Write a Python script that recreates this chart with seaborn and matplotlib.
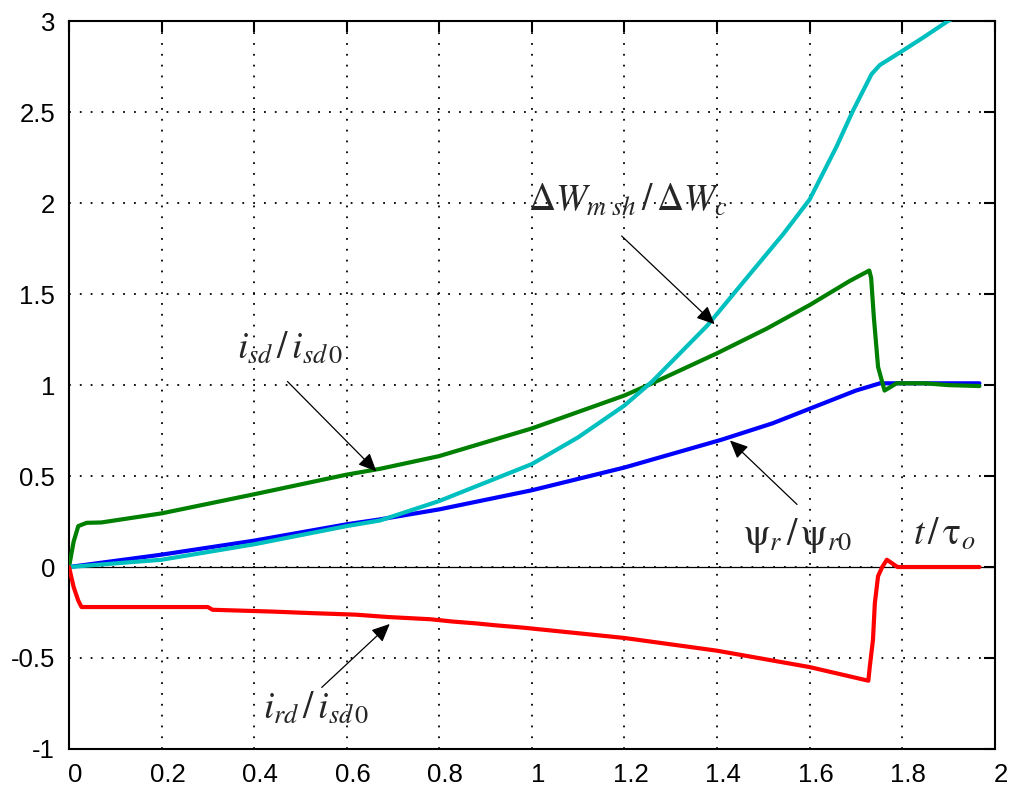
import matplotlib
matplotlib.use("Agg")
import matplotlib.pyplot as plt
import matplotlib.transforms as mtransforms
from matplotlib.ticker import FormatStrFormatter
import seaborn as sns

# values
t_isd = [0, 0.01, 0.02, 0.038, 0.07, 0.2, 0.4, 0.6, 0.672, 0.8, 1.0, 1.2, 1.26, 1.4, 1.507,
         1.6, 1.687, 1.729, 1.733, 1.739, 1.748, 1.762, 1.788, 1.85, 1.9, 1.967]
isd = [0, 0.14, 0.225, 0.243, 0.245, 0.295, 0.40, 0.508, 0.54, 0.61, 0.762, 0.943, 1.01, 1.175, 1.31,
       1.44, 1.573, 1.63, 1.59, 1.37, 1.10, 0.97, 1.01, 1.01, 1.0, 0.995]

t_psi = [0, 0.2, 0.4, 0.6, 0.672, 0.8, 1.0, 1.2, 1.41, 1.52, 1.615, 1.70, 1.752, 1.8, 1.9, 1.967]
psi = [0, 0.068, 0.145, 0.235, 0.262, 0.317, 0.422, 0.547, 0.70, 0.79, 0.885, 0.97, 1.01, 1.01, 1.01, 1.01]

t_dw = [0, 0.2, 0.4, 0.6, 0.672, 0.8, 1.0, 1.1, 1.2, 1.26, 1.38, 1.471, 1.543, 1.6, 1.658,
        1.694, 1.716, 1.734, 1.752, 1.796, 1.845, 1.898, 1.96]
dw = [0, 0.04, 0.125, 0.225, 0.256, 0.363, 0.566, 0.713, 0.888, 1.02, 1.33, 1.61, 1.83, 2.02, 2.31,
      2.51, 2.62, 2.71, 2.76, 2.83, 2.91, 3.0, 3.09]

t_ird = [0, 0.01, 0.02, 0.027, 0.3, 0.31, 0.44, 0.52, 0.62, 0.69, 0.78, 0.83, 0.88, 0.92, 0.98,
         1.2, 1.4, 1.6, 1.727, 1.73, 1.737, 1.741, 1.748, 1.757, 1.767, 1.79, 1.85, 1.967]
ird = [0, -0.11, -0.185, -0.22, -0.22, -0.235, -0.245, -0.253, -0.262, -0.275, -0.287, -0.30, -0.31, -0.32, -0.333,
       -0.39, -0.46, -0.55, -0.625, -0.55, -0.40, -0.20, -0.05, 0.0, 0.04, 0.0, 0.0, 0.0]

x_ticks = [0, 0.2, 0.4, 0.6, 0.8, 1.0, 1.2, 1.4, 1.6, 1.8, 2.0]
y_ticks = [-1, -0.5, 0, 0.5, 1, 1.5, 2, 2.5, 3]

sns.set_theme(style="white")
plt.rcParams["font.family"] = ["Liberation Sans", "DejaVu Sans"]
plt.rcParams["mathtext.fontset"] = "stix"

fig, ax = plt.subplots(figsize=(10.15, 7.9), dpi=100)
fig.subplots_adjust(left=0.068, right=0.980, bottom=0.052, top=0.973)

ax.axhline(0, color="black", lw=0.9, zorder=1)

curves = [(t_psi, psi, "#0000ff"), (t_isd, isd, "#008000"),
          (t_dw, dw, "#00bfbf"), (t_ird, ird, "#ff0000")]
for t, v, c in curves:
    sns.lineplot(x=t, y=v, color=c, lw=3.0, ax=ax, estimator=None, errorbar=None, zorder=3)

ax.set_xlim(0, 2)
ax.set_ylim(-1, 3)
ax.set_xticks(x_ticks)
ax.set_yticks(y_ticks)
ax.xaxis.set_major_formatter(FormatStrFormatter("%g"))
ax.yaxis.set_major_formatter(FormatStrFormatter("%g"))
ax.grid(True, color="black", linestyle=(0, (1, 5)), lw=1.3)
ax.tick_params(direction="in", length=8, width=1.5, top=True, right=True,
               labelsize=18.5, pad=10, colors="black")
for s in ax.spines.values():
    s.set_color("black")
    s.set_linewidth(1.5)

arrow = dict(arrowstyle="-|>,head_length=0.55,head_width=0.25", color="black",
             lw=0.9, mutation_scale=20, shrinkA=0, shrinkB=0)
fs = 27

ax.text(0.991, 1.96, r"$\Delta W_{m\ sh}\,/\,\Delta W_c$", fontsize=fs, ha="left", va="baseline")
ax.annotate("", xy=(1.395, 1.335), xytext=(1.194, 1.82), arrowprops=arrow)

ax.text(0.362, 1.151, r"$i_{sd}\,/\,i_{sd\,0}$", fontsize=fs, ha="left", va="baseline")
ax.annotate("", xy=(0.664, 0.526), xytext=(0.472, 1.02), arrowprops=arrow)

ax.text(1.456, 0.123, r"$\mathrm{\psi}_r\,/\,\mathrm{\psi}_{r0}$", fontsize=fs, ha="left", va="baseline")
ax.annotate("", xy=(1.428, 0.696), xytext=(1.573, 0.344), arrowprops=arrow)

ax.text(1.824, 0.123, r"$t\,/\,\mathrm{\tau}_o$", fontsize=fs, ha="left", va="baseline")

ax.text(0.42, -0.831, r"$i_{rd}\,/\,i_{sd\,0}$", fontsize=fs, ha="left", va="baseline")
ax.annotate("", xy=(0.693, -0.313), xytext=(0.546, -0.662), arrowprops=arrow)

# tick labels on the x axis sit a few pixels right of their ticks in the reference
fig.canvas.draw()
shift = mtransforms.ScaledTranslation(6 / 100, 0, fig.dpi_scale_trans)
for tick in ax.xaxis.get_major_ticks():
    tick.label1.set_transform(tick.label1.get_transform() + shift)

fig.savefig("out.png", dpi=100)
